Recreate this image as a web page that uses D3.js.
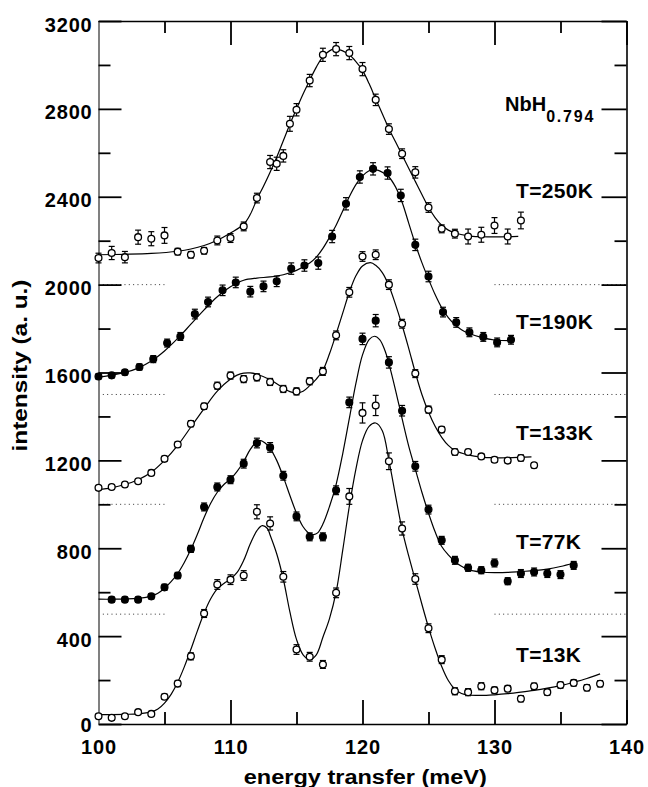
<!DOCTYPE html>
<html>
<head>
<meta charset="utf-8">
<script src="https://cdn.jsdelivr.net/npm/d3@7"></script>
<style>
  body { margin: 0; background: #fff; }
  svg { display: block; }
  text { font-family: "Liberation Sans", Arial, Helvetica, sans-serif; font-weight: bold; fill: #000; }
  .tick text { font-size: 20px; letter-spacing: 0.8px; }
  .lbl { font-size: 21px; letter-spacing: 0.3px; }
  .title { font-size: 20px; }
</style>
</head>
<body>
<svg id="chart" width="648" height="787"></svg>
<script>
// ---- axis ticks ----
const xMajor = [100, 110, 120, 130, 140];
const xMinor = [105, 115, 125, 135];
const yMajor = [0, 400, 800, 1200, 1600, 2000, 2400, 2800, 3200];
const yMinor = [200, 600, 1000, 1400, 1800, 2200, 2600, 3000];
const baselines = [500, 1000, 1500, 2000];

// ---- T = 250 K (open) ----
const e250 = [100,101,102,103,104,105,106,107,108,109,110,111,112,113,113.5,114,114.5,115,116,117,118,119,120,121,122,123,124,125,126,127,128,129,130,131,132];
const i250 = [2121,2144,2125,2216,2209,2224,2150,2136,2154,2201,2212,2265,2394,2558,2550,2586,2732,2796,2929,3046,3072,3054,2981,2841,2708,2596,2511,2351,2254,2232,2219,2227,2269,2219,2292];
const s250 = [22,30,26,32,32,36,15,15,15,20,20,20,22,30,30,28,34,28,28,30,30,30,30,26,24,22,26,22,18,20,34,34,36,34,38];
const fitE250 = [100,102,104,106,107,108,109,110,111,111.5,112,112.5,113,113.5,114,114.5,115,115.5,116,116.5,117,117.5,117.8,118.2,118.5,119,119.5,120,120.5,121,121.5,122,122.5,123,123.5,124,124.5,125,125.5,126,126.5,127,128,129,130,131,131.8];
const fitI250 = [2136,2138,2142,2152,2162,2178,2202,2235,2275,2320,2388,2448,2512,2580,2655,2730,2800,2868,2930,2990,3038,3064,3072,3070,3064,3046,3015,2975,2915,2845,2778,2710,2650,2590,2530,2470,2410,2352,2305,2270,2248,2235,2222,2218,2217,2218,2220];

// ---- T = 190 K (filled) ----
const e190 = [100,101,102,103.1,104.15,105.2,106.2,107.3,108.3,109.4,110.4,111.5,112.5,113.5,114.6,115.6,116.65,117.7,118.75,119.8,120.8,121.9,122.9,124,125,126.1,127.1,128.1,129.15,130.2,131.25];
const i190 = [1582,1587,1601,1625,1661,1734,1764,1866,1921,1974,2010,1968,1992,2015,2073,2087,2098,2219,2368,2490,2527,2508,2406,2181,2037,1875,1828,1783,1762,1737,1749];
const s190 = [12,12,12,14,16,18,18,22,22,24,24,24,24,24,26,26,28,28,28,28,28,28,28,26,24,22,22,20,20,20,20];
const fitE190 = [100,101,102,103,104,105,106,107,108,109,110,111,112,113,114,115,116,116.5,117,117.5,118,118.5,119,119.5,120,120.5,120.8,121.2,121.6,122,122.5,123,123.5,124,124.5,125,125.5,126,126.5,127,127.5,128,129,130,131.25];
const fitI190 = [1578,1588,1600,1620,1652,1698,1755,1820,1885,1945,1990,2020,2030,2035,2045,2065,2098,2125,2165,2215,2270,2335,2400,2455,2495,2518,2523,2520,2508,2490,2445,2375,2280,2185,2100,2025,1955,1895,1850,1818,1795,1780,1760,1748,1745];

// ---- T = 133 K (open) ----
const e133 = [100,101,102,103,104,105,106,107,108,109,110,111,112,113,114,115,116,117,118,119,120,121,122,123,124,125,126,127,128,129,130,131,132,133];
const i133 = [1075,1079,1090,1105,1143,1207,1272,1367,1446,1540,1586,1570,1578,1557,1525,1514,1560,1605,1769,1965,2128,2136,2000,1822,1595,1431,1340,1238,1238,1218,1203,1199,1211,1178];
const s133 = [10,10,10,10,12,12,12,14,14,16,16,16,16,16,16,16,16,18,20,22,22,22,22,20,18,16,14,14,12,12,12,12,14,12];
const fitE133 = [100,101,102,103,104,105,106,107,108,109,110,110.5,111,111.5,112,113,114,114.5,115,115.5,116,116.5,117,117.5,118,118.5,119,119.5,120,120.6,121,121.5,122,122.5,123,123.5,124,124.5,125,125.5,126,126.5,127,128,129,130,131,132,132.8];
const fitI133 = [1067,1075,1090,1112,1146,1200,1268,1352,1436,1515,1570,1588,1597,1598,1592,1567,1530,1513,1507,1515,1540,1570,1610,1685,1775,1870,1965,2040,2085,2100,2088,2055,1995,1910,1815,1710,1600,1500,1420,1355,1305,1268,1245,1225,1215,1212,1212,1214,1216];

// ---- T = 77 K (filled) ----
const e77 = [101,102,103,104,105,106,107,108,109,110,111,112,113,114,115,116,117,118,119,120,121,122,123,124,125,126,127,128,129,130,131,132,133,134,135,136];
const i77 = [566,566,566,581,622,676,797,988,1079,1112,1185,1279,1259,1130,945,852,852,1064,1464,1753,1836,1646,1426,1173,976,836,745,711,700,733,650,685,692,685,680,722];
const s77 = [12,12,12,12,14,14,16,18,18,18,20,22,22,20,20,18,18,20,24,26,28,26,24,22,20,18,18,16,16,18,16,18,18,18,18,18];
const fitE77 = [100,101,102,103,104,104.5,105,105.5,106,106.5,107,107.5,108,108.5,109,109.5,110,110.5,111,111.5,112,112.3,112.6,113,113.5,114,114.5,115,115.5,116,116.3,116.6,117,117.5,118,118.5,119,119.5,120,120.5,120.9,121.3,121.7,122,122.5,123,123.5,124,124.5,125,125.5,126,126.5,127,127.5,128,129,130,131,132,133,134,135,136];
const fitI77 = [568,568,569,572,582,595,618,648,685,735,795,865,940,1005,1055,1090,1115,1150,1195,1250,1285,1290,1280,1255,1200,1125,1040,960,898,866,862,870,910,990,1090,1230,1390,1550,1680,1750,1765,1750,1700,1640,1520,1390,1265,1160,1055,960,875,808,770,740,718,703,692,689,690,694,698,705,717,733];

// ---- T = 13 K (open) ----
const e13 = [100,101,102,103,104,105,106,107,108,109,110,111,112,113,114,115,116,117,118,119,120,121,122,123,124,125,126,127,128,129,130,131,132,133,134,135,136,137,138];
const i13 = [35,28,35,54,46,124,184,308,503,635,657,676,966,913,670,339,306,271,597,1036,1416,1450,1196,890,660,436,293,149,145,172,154,161,115,172,145,177,187,165,183];
const s13 = [10,10,10,10,10,12,14,16,18,22,22,22,32,30,24,22,20,18,22,36,46,46,38,30,24,20,18,16,16,16,14,14,14,14,14,14,14,14,14];
const fitE13 = [100,101,102,103,104,104.5,105,105.5,106,106.5,107,107.5,108,108.5,109,109.5,110,110.5,111,111.5,112,112.4,112.8,113,113.5,114,114.5,115,115.5,116,116.5,117,117.5,118,118.5,119,119.5,120,120.5,121,121.5,122,122.5,123,123.5,124,124.5,125,125.5,126,126.5,127,127.5,128,129,130,131,132,133,134,135,136,137,138];
const fitI13 = [43,43,44,46,55,68,95,135,190,260,340,425,505,570,615,640,660,690,745,820,880,903,890,860,775,660,510,385,315,293,315,395,480,600,790,990,1160,1290,1355,1370,1335,1200,1040,885,765,655,545,440,345,262,198,158,139,132,130,133,138,145,153,163,175,190,207,228];

const tempLabels = ["T=250K", "T=190K", "T=133K", "T=77K", "T=13K"];

const series = [
  { label: tempLabels[0], filled: false, e: e250, i: i250, s: s250, fe: fitE250, fi: fitI250, ly: 2393 },
  { label: tempLabels[1], filled: true,  e: e190, i: i190, s: s190, fe: fitE190, fi: fitI190, ly: 1797 },
  { label: tempLabels[2], filled: false, e: e133, i: i133, s: s133, fe: fitE133, fi: fitI133, ly: 1293 },
  { label: tempLabels[3], filled: true,  e: e77,  i: i77,  s: s77,  fe: fitE77,  fi: fitI77,  ly: 795 },
  { label: tempLabels[4], filled: false, e: e13,  i: i13,  s: s13,  fe: fitE13,  fi: fitI13,  ly: 284 }
];

// ---- scales ----
const x = d3.scaleLinear().domain([100, 140]).range([98.5, 626.5]);
const y = d3.scaleLinear().domain([0, 3200]).range([724, 21]);
const svg = d3.select("#chart");

function tidy(g, domainColor) {
  g.attr("font-size", null).attr("font-family", null);
  g.select(".domain").attr("stroke", domainColor).attr("stroke-width", domainColor === "#000" ? 1.6 : 2);
  g.selectAll(".tick line").attr("stroke", "#000").attr("stroke-width", 1.8);
}

// dotted baseline markers at the left and right edges
const dots = svg.append("g");
baselines.forEach(b => {
  [[100, 105], [130, 140]].forEach(([a, c]) => {
    dots.append("line")
      .attr("x1", x(a)).attr("x2", x(c))
      .attr("y1", y(b)).attr("y2", y(b))
      .attr("stroke", "#333").attr("stroke-width", 1)
      .attr("stroke-dasharray", "1 3.33");
  });
});

// ---- axes (ticks point inward) ----
svg.append("g").attr("transform", `translate(0,${y(0)})`)
  .call(d3.axisBottom(x).tickValues(xMajor).tickSize(-24).tickSizeOuter(0).tickFormat(d3.format("d")))
  .call(g => { tidy(g, "#000"); g.selectAll(".tick text").attr("y", 30).attr("dy", 0); });
svg.append("g").attr("transform", `translate(0,${y(0)})`)
  .call(d3.axisBottom(x).tickValues(xMinor).tickSize(-12).tickSizeOuter(0).tickFormat(""))
  .call(g => { tidy(g, "#000"); g.select(".domain").remove(); });

svg.append("g").attr("transform", `translate(0,${y(3200)})`)
  .call(d3.axisTop(x).tickValues(xMajor).tickSize(-24).tickSizeOuter(0).tickFormat(""))
  .call(g => tidy(g, "#000"));
svg.append("g").attr("transform", `translate(0,${y(3200)})`)
  .call(d3.axisTop(x).tickValues(xMinor).tickSize(-12).tickSizeOuter(0).tickFormat(""))
  .call(g => { tidy(g, "#000"); g.select(".domain").remove(); });

svg.append("g").attr("transform", `translate(${x(140)},0)`)
  .call(d3.axisRight(y).tickValues(yMajor).tickSize(-25).tickSizeOuter(0).tickFormat(""))
  .call(g => tidy(g, "#000"));
svg.append("g").attr("transform", `translate(${x(140)},0)`)
  .call(d3.axisRight(y).tickValues(yMinor).tickSize(-12).tickSizeOuter(0).tickFormat(""))
  .call(g => { tidy(g, "#000"); g.select(".domain").remove(); });

svg.append("g").attr("transform", `translate(${x(100)},0)`)
  .call(d3.axisLeft(y).tickValues(yMajor).tickSize(-23).tickSizeOuter(0).tickPadding(6).tickFormat(d3.format("d")))
  .call(g => {
    tidy(g, "#808080");
    g.selectAll(".tick text").attr("dy", d => d === 0 ? "0.375em" : "0.5em");
  });
svg.append("g").attr("transform", `translate(${x(100)},0)`)
  .call(d3.axisLeft(y).tickValues(yMinor).tickSize(-12).tickSizeOuter(0).tickFormat(""))
  .call(g => { tidy(g, "#808080"); g.select(".domain").remove(); });

// ---- fitted curves ----
const line = d3.line().x(d => x(d[0])).y(d => y(d[1])).curve(d3.curveCatmullRom.alpha(0.5));
series.forEach(sr => {
  svg.append("path")
    .datum(sr.fe.map((v, k) => [v, sr.fi[k]]))
    .attr("d", line)
    .attr("fill", "none").attr("stroke", "#000").attr("stroke-width", 1.2);
});

// ---- error bars and markers ----
series.forEach(sr => {
  const pts = sr.e.map((v, k) => ({ e: v, i: sr.i[k], s: sr.s[k] }));
  const g = svg.append("g");
  const eb = g.selectAll("g.eb").data(pts).join("g").attr("class", "eb")
    .attr("stroke", "#000").attr("stroke-width", 1.2);
  eb.append("line")
    .attr("x1", d => x(d.e)).attr("x2", d => x(d.e))
    .attr("y1", d => y(d.i - d.s)).attr("y2", d => y(d.i + d.s));
  eb.append("line")
    .attr("x1", d => x(d.e) - 3).attr("x2", d => x(d.e) + 3)
    .attr("y1", d => y(d.i + d.s)).attr("y2", d => y(d.i + d.s));
  eb.append("line")
    .attr("x1", d => x(d.e) - 3).attr("x2", d => x(d.e) + 3)
    .attr("y1", d => y(d.i - d.s)).attr("y2", d => y(d.i - d.s));
  g.selectAll("circle").data(pts).join("circle")
    .attr("cx", d => x(d.e)).attr("cy", d => y(d.i))
    .attr("r", 3.4)
    .attr("fill", sr.filled ? "#000" : "#fff")
    .attr("stroke", "#000").attr("stroke-width", 1.3);
});

// ---- labels ----
series.forEach(sr => {
  svg.append("text").attr("class", "lbl")
    .attr("x", x(131.63)).attr("y", y(sr.ly))
    .text(sr.label);
});
const nb = svg.append("text").attr("class", "lbl")
  .attr("x", x(130.8)).attr("y", y(2792)).style("letter-spacing", "0px").style("font-size", "20px");
nb.append("tspan").text("NbH");
nb.append("tspan").attr("dy", 11).style("font-size", "16px").style("letter-spacing", "1.8px").text("0.794");

// axis titles
svg.append("text").attr("class", "title")
  .attr("x", 365.3).attr("y", 783.5)
  .attr("text-anchor", "middle")
  .attr("textLength", 243).attr("lengthAdjust", "spacingAndGlyphs")
  .text("energy transfer (meV)");
svg.append("text").attr("class", "title")
  .attr("transform", "translate(26.5,365.5) rotate(-90)")
  .attr("text-anchor", "middle")
  .style("font-size", "19.5px")
  .attr("textLength", 172).attr("lengthAdjust", "spacingAndGlyphs")
  .text("intensity (a. u.)");
</script>
</body>
</html>
